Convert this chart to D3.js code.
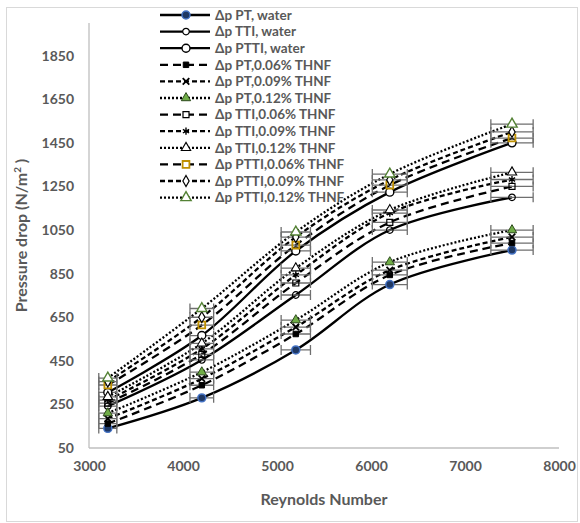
<!DOCTYPE html>
<html>
<head>
<meta charset="utf-8">
<script src="https://cdn.jsdelivr.net/npm/d3@7"></script>
<style>
  body { margin: 0; background: #fff; }
  svg { display: block; font-family: Lato, "Open Sans", sans-serif; }
</style>
</head>
<body>
<svg id="chart" width="580" height="523"></svg>
<script>
// reynolds numbers (x) shared by all series
const reynolds = [3200, 4200, 5200, 6200, 7500];

// pressure drop values (N/m2)
const ptWater     = [140, 280, 500, 800, 958];
const ttiWater    = [242, 454, 752, 1050, 1200];
const pttiWater   = [305, 566, 954, 1224, 1450];
const pt006       = [162, 338, 573, 844, 990];
const pt009       = [185, 368, 605, 866, 1018];
const pt012       = [210, 398, 637, 903, 1050];
const tti006      = [256, 480, 807, 1085, 1250];
const tti009      = [270, 505, 844, 1128, 1282];
const tti012      = [285, 530, 875, 1142, 1315];
const ptti006     = [339, 614, 981, 1256, 1472];
const ptti009     = [355, 650, 1018, 1280, 1500];
const ptti012     = [371, 690, 1041, 1307, 1536];

const seriesNames = [
  'Δp PT, water', 'Δp TTI, water', 'Δp PTTI, water',
  'Δp PT,0.06% THNF', 'Δp PT,0.09% THNF', 'Δp PT,0.12% THNF',
  'Δp TTI,0.06% THNF', 'Δp TTI,0.09% THNF', 'Δp TTI,0.12% THNF',
  'Δp PTTI,0.06% THNF', 'Δp PTTI,0.09% THNF', 'Δp PTTI,0.12% THNF'
];
const seriesValues = [
  ptWater, ttiWater, pttiWater,
  pt006, pt009, pt012,
  tti006, tti009, tti012,
  ptti006, ptti009, ptti012
];

const xTicks = [3000, 4000, 5000, 6000, 7000, 8000];
const yTicks = [50, 250, 450, 650, 850, 1050, 1250, 1450, 1650, 1850];
const xErrorPct = 0.03;

// look of each series (line dash + marker)
const solid = null, longDash = '8,5', dash = '5,3', dot = '2,2';
const styles = [
  { dash: solid,    sym: d3.symbolCircle,   size: 50, fill: '#1F3864', stroke: '#4472C4', sw: 1.5 },
  { dash: solid,    sym: d3.symbolCircle,   size: 34, fill: 'none',    stroke: '#000',    sw: 1.2 },
  { dash: solid,    sym: d3.symbolCircle,   size: 50, fill: '#fff',    stroke: '#000',    sw: 1.4 },
  { dash: longDash, sym: d3.symbolSquare,   size: 30, fill: '#000',    stroke: '#000',    sw: 1 },
  { dash: dash,     sym: d3.symbolTimes || d3.symbolCross, size: 30, fill: 'none', stroke: '#000', sw: 1.8 },
  { dash: dot,      sym: d3.symbolTriangle, size: 38, fill: '#70AD47', stroke: '#2d4a1c', sw: 1 },
  { dash: longDash, sym: d3.symbolSquare,   size: 36, fill: 'none',    stroke: '#000',    sw: 1.2 },
  { dash: dash,     sym: d3.symbolAsterisk || d3.symbolStar, size: 36, fill: 'none', stroke: '#000', sw: 1.4 },
  { dash: dot,      sym: d3.symbolTriangle, size: 38, fill: '#fff',    stroke: '#000',    sw: 1.1 },
  { dash: longDash, sym: d3.symbolSquare,   size: 46, fill: 'none',    stroke: '#BF9000', sw: 1.8 },
  { dash: dash,     sym: d3.symbolDiamond,  size: 34, fill: '#fff',    stroke: '#000',    sw: 1.2 },
  { dash: dot,      sym: d3.symbolTriangle, size: 46, fill: '#fff',    stroke: '#548235', sw: 1.4 }
];

const svg = d3.select('#chart');
const plot = { left: 89, right: 559, top: 23, bottom: 448 };
const textColor = '#595959';

// outer chart frame
svg.append('rect')
    .attr('x', 6.5).attr('y', 7.5)
    .attr('width', 571).attr('height', 514)
    .attr('fill', '#fff')
    .attr('stroke', '#d9d9d9');

const x = d3.scaleLinear().domain([3000, 8000]).range([plot.left, plot.right]);
const y = d3.scaleLinear().domain([50, 2000]).range([plot.bottom, plot.top]);

// axes
const xAxis = svg.append('g')
    .attr('transform', 'translate(0,' + plot.bottom + ')')
    .call(d3.axisBottom(x).tickValues(xTicks).tickSize(0).tickPadding(13).tickFormat(d3.format('d')));
const yAxis = svg.append('g')
    .attr('transform', 'translate(' + plot.left + ',0)')
    .call(d3.axisLeft(y).tickValues(yTicks).tickSize(0).tickPadding(15).tickFormat(d3.format('d')));

[xAxis, yAxis].forEach(a => {
  a.select('.domain').attr('stroke', '#bfbfbf').attr('stroke-width', 1.3);
  a.selectAll('text')
      .attr('fill', textColor)
      .attr('font-size', 14)
      .attr('font-weight', 'bold')
      .attr('font-family', 'Lato, sans-serif');
});
yAxis.select('.domain').attr('d', 'M0,' + plot.top + 'V' + plot.bottom);
xAxis.select('.domain').attr('d', 'M' + plot.left + ',0H' + plot.right);

// axis titles
svg.append('text')
    .attr('x', (plot.left + plot.right) / 2)
    .attr('y', 505)
    .attr('text-anchor', 'middle')
    .attr('font-size', 16)
    .attr('font-weight', 'bold')
    .attr('fill', textColor)
    .text('Reynolds Number');

const yTitle = svg.append('text')
    .attr('transform', 'translate(27,' + ((plot.top + plot.bottom) / 2) + ') rotate(-90)')
    .attr('text-anchor', 'middle')
    .attr('font-size', 16)
    .attr('font-weight', 'bold')
    .attr('fill', textColor);
yTitle.append('tspan').text('Pressure drop (N/m');
yTitle.append('tspan').attr('font-size', 10).attr('dy', -6).text('2');
yTitle.append('tspan').attr('dy', 6).text(' )');

// legend (drawn under the plot marks, as in the original)
const legend = svg.append('g');
seriesNames.forEach((name, i) => {
  const st = styles[i];
  const ly = 15 + i * 16.6;
  legend.append('line')
      .attr('x1', 160).attr('x2', 210)
      .attr('y1', ly).attr('y2', ly)
      .attr('stroke', '#000')
      .attr('stroke-width', 2.3)
      .attr('stroke-dasharray', st.dash);
  legend.append('path')
      .attr('transform', 'translate(186,' + ly + ')')
      .attr('d', d3.symbol().type(st.sym).size(st.size)())
      .attr('fill', st.fill === 'none' ? '#fff' : st.fill)
      .attr('stroke', st.stroke)
      .attr('stroke-width', st.sw);
  legend.append('text')
      .attr('x', 215).attr('y', ly)
      .attr('dy', '0.35em')
      .attr('font-size', 13.5)
      .attr('font-weight', 'bold')
      .attr('fill', textColor)
      .text(name);
});

// lines
const line = d3.line()
    .x((d, j) => x(reynolds[j]))
    .y(d => y(d))
    .curve(d3.curveCatmullRom);

svg.append('g').selectAll('path')
    .data(seriesValues)
    .join('path')
    .attr('d', d => line(d))
    .attr('fill', 'none')
    .attr('stroke', '#000')
    .attr('stroke-width', 2.3)
    .attr('stroke-dasharray', (d, i) => styles[i].dash);

// horizontal error bars (3 % of Re)
const errG = svg.append('g')
    .attr('stroke', '#6f6f6f')
    .attr('stroke-width', 1.3);
seriesValues.forEach(vals => {
  vals.forEach((v, j) => {
    const x0 = x(reynolds[j] * (1 - xErrorPct));
    const x1 = x(reynolds[j] * (1 + xErrorPct));
    const yy = y(v);
    errG.append('path')
        .attr('d', 'M' + x0 + ',' + yy + 'H' + x1 +
                   'M' + x0 + ',' + (yy - 5) + 'V' + (yy + 5) +
                   'M' + x1 + ',' + (yy - 5) + 'V' + (yy + 5))
        .attr('fill', 'none');
  });
});

// markers
seriesValues.forEach((vals, i) => {
  const st = styles[i];
  svg.append('g').selectAll('path')
      .data(vals)
      .join('path')
      .attr('transform', (d, j) => 'translate(' + x(reynolds[j]) + ',' + y(d) + ')')
      .attr('d', d3.symbol().type(st.sym).size(st.size)())
      .attr('fill', st.fill)
      .attr('stroke', st.stroke)
      .attr('stroke-width', st.sw);
});
</script>
</body>
</html>
